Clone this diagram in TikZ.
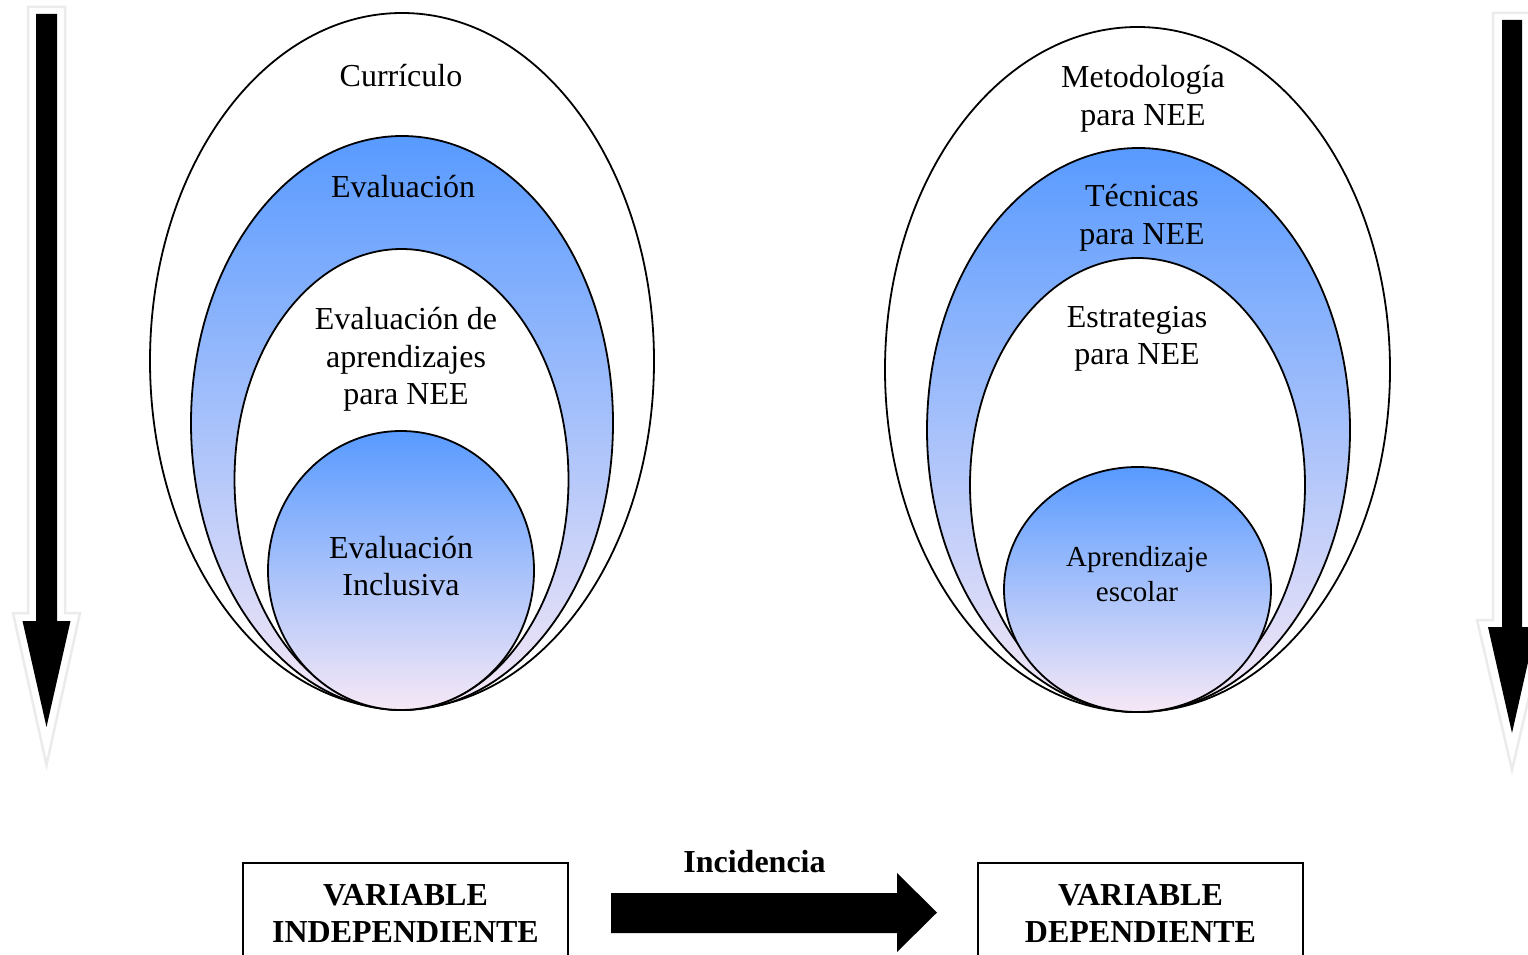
\documentclass[tikz,border=0pt]{standalone}
\usepackage{fontspec}
\setmainfont{Liberation Serif}
\definecolor{blueTop}{RGB}{88,154,255}
\definecolor{blueMid}{RGB}{122,182,255}
\definecolor{pinkBot}{RGB}{246,232,246}
\begin{document}
\begin{tikzpicture}[x=1pt,y=-1pt,
  lbl/.style={align=center, font=\fontsize{32}{37.5}\selectfont, inner sep=0pt},
  lblsmall/.style={align=center, font=\fontsize{29}{35}\selectfont, inner sep=0pt},
  lblbold/.style={align=center, font=\fontsize{32}{37}\selectfont\bfseries, inner sep=0pt},
  ring/.style={draw=black, line width=1.8pt},
  plainring/.style={ring, fill=white},
  gradring/.style={ring, top color=blueTop, middle color=blueMid, bottom color=pinkBot},
  halo/.style={draw=black!8, line width=2.5pt, fill=white, line join=miter},
  arrowbody/.style={fill=black},
  varbox/.style={draw=black, line width=2pt}
]
\useasboundingbox (0,0) rectangle (1528,955);
\clip (0,0) rectangle (1528,955);

% left vertical arrow
\draw[halo] (28,7) -- (65,7) -- (65,613) -- (80,613) -- (46.5,765) -- (13,613) -- (28,613) -- cycle;
\fill[arrowbody] (36,14) -- (57,14) -- (57,621) -- (70.5,621) -- (46.5,727) -- (22.5,621) -- (36,621) -- cycle;

% right vertical arrow
\draw[halo] (1493,13) -- (1531,13) -- (1531,620) -- (1547,620) -- (1512,770) -- (1477,620) -- (1493,620) -- cycle;
\fill[arrowbody] (1502,20) -- (1522,20) -- (1522,627) -- (1536,627) -- (1512,733) -- (1488,627) -- (1502,627) -- cycle;

% left nested ellipses
\path[plainring] (402,361) ellipse [x radius=252, y radius=348];
\path[gradring]  (402,423) ellipse [x radius=211, y radius=287];
\path[plainring] (401.5,479.5) ellipse [x radius=167, y radius=230.5];
\path[gradring]  (401,570.5) ellipse [x radius=133, y radius=139.5];

\node[lbl] (curr) at (401,76) {Currículo};
\node[lbl] (eval) at (403,187) {Evaluación};
\node[lbl] (evap) at (406,359.5) {Evaluación de\\aprendizajes\\para NEE};
\node[lbl] (evin) at (401,566) {Evaluación\\Inclusiva};

% right nested ellipses
\path[plainring] (1137.5,369.5) ellipse [x radius=252.5, y radius=342.5];
\path[gradring]  (1138.5,430) ellipse [x radius=211.5, y radius=282];
\path[plainring] (1137.5,485) ellipse [x radius=167.5, y radius=227];
\path[gradring]  (1137.5,589.5) ellipse [x radius=133.5, y radius=122.5];

\node[lbl] (meto) at (1143,99) {Metodología\\para NEE};
\node[lbl] (tecn) at (1142,218) {Técnicas\\para NEE};
\node[lbl] (estr) at (1137,339) {Estrategias\\para NEE};
\node[lblsmall] (apre) at (1137,574) {Aprendizaje\\escolar};

% variables and the incidence arrow
\draw[varbox] (243,863) rectangle (568,985);
\draw[varbox] (978,863) rectangle (1303,985);
\node[lblbold] (vind) at (405.5,913) {VARIABLE\\INDEPENDIENTE};
\node[lblbold] (vdep) at (1140.5,913) {VARIABLE\\DEPENDIENTE};

\fill[arrowbody] (611,893) -- (897,893) -- (897,873) -- (937,912.5) -- (897,952) -- (897,933) -- (611,933) -- cycle;
\node[lblbold] (inci) at (754.5,862) {Incidencia};
\end{tikzpicture}
\end{document}
